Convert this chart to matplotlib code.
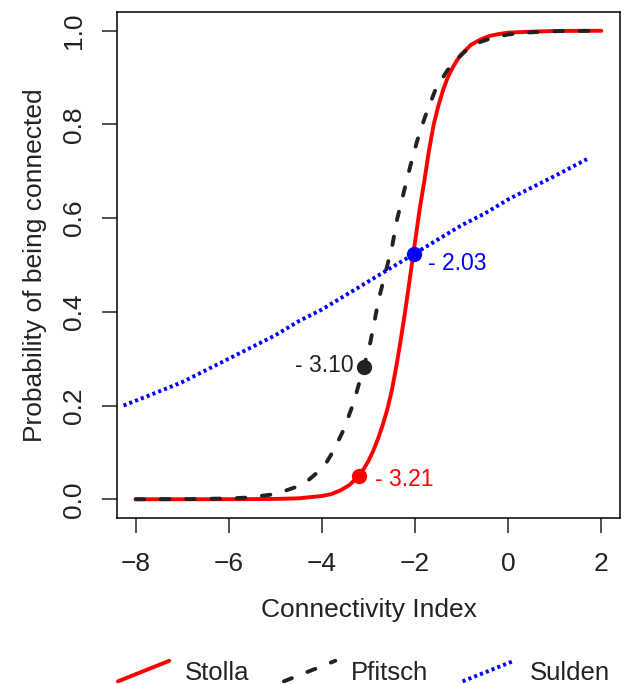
import matplotlib
matplotlib.use("Agg")
import matplotlib.pyplot as plt
from matplotlib.lines import Line2D
from matplotlib.legend_handler import HandlerLine2D

plt.rcParams['font.family'] = ['Liberation Sans', 'DejaVu Sans']

# ---- data ----
stolla_x = [-8.0, -7.0, -6.0, -5.5, -5.0, -4.5, -4.0, -3.8, -3.6, -3.4, -3.21, -3.1, -3.0,
            -2.9, -2.8, -2.7, -2.6, -2.5, -2.4, -2.3, -2.2, -2.1, -2.0, -1.9, -1.8, -1.7,
            -1.6, -1.5, -1.4, -1.3, -1.2, -1.1, -1.0, -0.8, -0.6, -0.4, -0.2, 0.0, 0.5,
            1.0, 1.5, 2.0]
stolla_p = [0.0, 0.0, 0.0001, 0.0003, 0.0007, 0.002, 0.007, 0.011, 0.019, 0.031, 0.05, 0.065,
            0.082, 0.103, 0.128, 0.157, 0.19, 0.232, 0.285, 0.345, 0.41, 0.48, 0.55, 0.62,
            0.68, 0.745, 0.80, 0.84, 0.873, 0.90, 0.92, 0.937, 0.95, 0.97, 0.981, 0.989,
            0.993, 0.996, 0.998, 0.9995, 0.9998, 0.9999]

pfitsch_x = [-8.0, -7.0, -6.5, -6.0, -5.6, -5.0, -4.5, -4.3, -4.1, -3.9, -3.75, -3.53, -3.32,
             -3.1, -2.96, -2.78, -2.635, -2.49, -2.385, -2.22, -2.1, -1.955, -1.78, -1.56,
             -1.31, -1.1, -0.87, -0.6, -0.31, 0.0, 0.4, 0.83, 1.4, 2.0]
pfitsch_p = [0.0, 0.0003, 0.0008, 0.0018, 0.0036, 0.011, 0.028, 0.04, 0.057, 0.079, 0.104,
             0.149, 0.206, 0.283, 0.335, 0.427, 0.484, 0.541, 0.598, 0.664, 0.712, 0.765,
             0.818, 0.875, 0.915, 0.94, 0.961, 0.976, 0.986, 0.992, 0.996, 0.9987, 0.9995,
             0.9998]

sulden_x = [-8.26, -7.5, -7.0, -6.5, -6.0, -5.5, -5.0, -4.5, -4.0, -3.5, -3.0, -2.5, -2.03,
            -1.5, -1.0, -0.5, 0.0, 0.5, 1.0, 1.69]
sulden_p = [0.20, 0.23, 0.25, 0.275, 0.30, 0.325, 0.35, 0.38, 0.405, 0.435, 0.465, 0.495,
            0.523, 0.555, 0.585, 0.61, 0.64, 0.665, 0.69, 0.726]

series_names = ['Stolla', 'Pfitsch', 'Sulden']
series_colors = ['#FF0000', '#222222', '#0000FF']
threshold_x = [-3.21, -3.10, -2.03]
threshold_p = [0.05, 0.283, 0.523]
threshold_labels = ['- 3.21', '- 3.10', '- 2.03']

x_ticks = [-8, -6, -4, -2, 0, 2]
y_ticks = [0.0, 0.2, 0.4, 0.6, 0.8, 1.0]
y_ticklabels = ['0.0', '0.2', '0.4', '0.6', '0.8', '1.0']


class SlantHandler(HandlerLine2D):
    def create_artists(self, legend, orig_handle, xdescent, ydescent, width, height,
                       fontsize, trans):
        yc = height / 2 - ydescent
        rise = 0.40 * width
        line = Line2D([-xdescent, width - xdescent], [yc - rise / 2, yc + rise / 2])
        self.update_prop(line, orig_handle, legend)
        line.set_transform(trans)
        return [line]


fig = plt.figure(figsize=(6.25, 6.84), dpi=100)
ax = fig.add_axes([117 / 625, 166 / 684, 503 / 625, 506 / 684])

lw = 2.8
l1, = ax.plot(stolla_x, stolla_p, color=series_colors[0], lw=lw, solid_capstyle='round',
              solid_joinstyle='round', label=series_names[0])
l2, = ax.plot(pfitsch_x, pfitsch_p, color=series_colors[1], lw=lw,
              linestyle=(0, (2.2, 4.3)), dash_capstyle='round', label=series_names[1])
l3, = ax.plot(sulden_x, sulden_p, color=series_colors[2], lw=lw,
              linestyle=(0, (0.8, 0.8)), dash_capstyle='butt', label=series_names[2])

for i in range(3):
    ax.plot([threshold_x[i]], [threshold_p[i]], 'o', color=series_colors[i], ms=11,
            mec='none', zorder=5)

ann_font = 16.5
ax.annotate(threshold_labels[0], (threshold_x[0], threshold_p[0]), xytext=(12, -3),
            textcoords='offset points', ha='left', va='center', fontsize=ann_font,
            color=series_colors[0])
ax.annotate(threshold_labels[1], (threshold_x[1], threshold_p[1]), xytext=(-7, 0.5),
            textcoords='offset points', ha='right', va='center', fontsize=ann_font,
            color=series_colors[1])
ax.annotate(threshold_labels[2], (threshold_x[2], threshold_p[2]), xytext=(10, -7),
            textcoords='offset points', ha='left', va='center', fontsize=ann_font,
            color=series_colors[2])

ax.set_xlim(-8.4, 2.4)
ax.set_ylim(-0.04, 1.04)
ax.set_xticks(x_ticks)
ax.set_xticklabels(['\u2212' + str(-t) if t < 0 else str(t) for t in x_ticks])
ax.set_yticks(y_ticks)
ax.set_yticklabels(y_ticklabels, rotation=90, va='center')
for s in ax.spines.values():
    s.set_linewidth(1.1)
ax.tick_params(axis='both', length=11, width=1.1, labelsize=19, color='#222222',
               labelcolor='#222222')
ax.tick_params(axis='x', pad=13.5)
ax.tick_params(axis='y', pad=11)
ax.set_xlabel('Connectivity Index', fontsize=19, color='#222222', labelpad=16)
ax.set_ylabel('Probability of being connected', fontsize=19, color='#222222', labelpad=11)

fig.legend(handles=[l1, l2, l3], labels=series_names, loc='center',
           bbox_to_anchor=(0.582, 0.016), ncol=3, frameon=False, fontsize=18.5,
           handlelength=2.0, handletextpad=0.6, columnspacing=1.35,
           labelcolor='#222222', handler_map={Line2D: SlantHandler()})

fig.savefig('out.png', dpi=100)
